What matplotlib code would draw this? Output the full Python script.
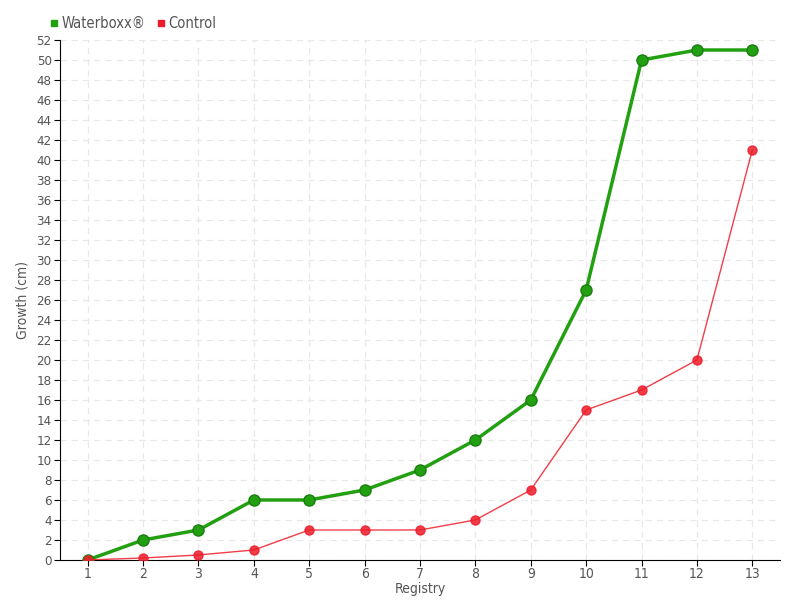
import matplotlib
matplotlib.use("Agg")
import matplotlib.pyplot as plt
from matplotlib.lines import Line2D

registry = list(range(1, 14))
waterboxx = [0, 2, 3, 6, 6, 7, 9, 12, 16, 27, 50, 51, 51]
control = [0, 0.2, 0.5, 1, 3, 3, 3, 4, 7, 15, 17, 20, 41]
y_ticks = list(range(0, 53, 2))
series_names = ["Waterboxx®", "Control"]

green = "#22a012"
red = "#ee1c2a"
txt = "#555555"

plt.rcParams['font.family'] = ['DejaVu Sans']
fig = plt.figure(figsize=(8, 6), dpi=100)
ax = fig.add_axes([0.075, 0.0667, 0.9, 0.8666])

ax.plot(registry, waterboxx, color=green, lw=2.5, marker='o', ms=8,
        markeredgecolor="#1a7f10", markerfacecolor=green, zorder=3)
ax.plot(registry, control, color=red, lw=1, alpha=0.85, marker='o', ms=6.5,
        markeredgecolor=red, markerfacecolor=red, zorder=4)

ax.set_xlim(0.5, 13.5)
ax.set_ylim(0, 52)
ax.set_xticks(registry)
ax.set_yticks(y_ticks)
ax.grid(True, color="#e8e8e8", ls=(0, (5, 4)), lw=0.9)
ax.set_axisbelow(True)
for s in ["top", "right"]:
    ax.spines[s].set_visible(False)
ax.spines["left"].set_color("black")
ax.spines["bottom"].set_color("black")
ax.tick_params(axis='both', colors="black", labelcolor=txt, labelsize=10, length=4)
ax.tick_params(axis='x', pad=1)
ax.tick_params(axis='y', pad=2, labelsize=9.5)
for lab in ax.get_xticklabels() + ax.get_yticklabels():
    lab.set_fontstretch('condensed')
ax.set_xlabel("Registry", color=txt, fontsize=10, labelpad=0.5, fontstretch='condensed')
ax.set_ylabel("Growth (cm)", color=txt, fontsize=10, fontstretch='condensed')
ax.yaxis.set_label_coords(-0.042, 0.5)

handles = [Line2D([], [], ls='none', marker='s', ms=5, color=green),
           Line2D([], [], ls='none', marker='s', ms=5, color=red)]
leg = fig.legend(handles, series_names, loc='upper left', bbox_to_anchor=(0.042, 0.995),
                 ncol=2, frameon=False, handletextpad=0.0, columnspacing=0.6,
                 handlelength=1.0, fontsize=10.5)
for t in leg.get_texts():
    t.set_color(txt)
    t.set_fontstretch('condensed')

fig.savefig("out.png", dpi=100)
